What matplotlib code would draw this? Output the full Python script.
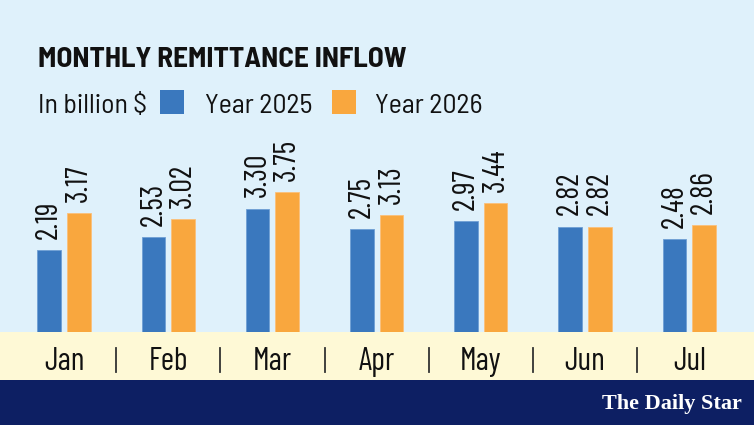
import matplotlib
matplotlib.use("Agg")
import matplotlib.pyplot as plt
import matplotlib.transforms as mtransforms
from matplotlib.patches import Rectangle
import numpy as np

# ------------------------------------------------------------------
# data (billion US$)
months = ["Jan", "Feb", "Mar", "Apr", "May", "Jun", "Jul"]
year_2025 = [2.19, 2.53, 3.30, 2.75, 2.97, 2.82, 2.48]
year_2026 = [3.17, 3.02, 3.75, 3.13, 3.44, 2.82, 2.86]
series_names = ["Year 2025", "Year 2026"]

# colours
bg_blue = "#dff1fb"
band_yellow = "#fef9d6"
navy = "#0d1f63"
c_2025 = "#3a78be"
c_2026 = "#f9a73e"

narrow = ["Barlow Condensed", "Roboto Condensed", "DejaVu Sans"]
semi = ["Barlow Semi Condensed", "Roboto Condensed", "DejaVu Sans"]
stretch = "condensed"

W, H = 754, 425
fig = plt.figure(figsize=(W / 100, H / 100), dpi=100)
fig.patch.set_facecolor(bg_blue)

# bottom bands (figure fraction), behind the axes
fig.patches.append(Rectangle((0, 0), 1, 45 / H, transform=fig.transFigure,
                             facecolor=navy, edgecolor="none", zorder=-5))
fig.patches.append(Rectangle((0, 45 / H), 1, 48 / H, transform=fig.transFigure,
                             facecolor=band_yellow, edgecolor="none", zorder=-5))

# main axes: bottom sits on the yellow band
ax = fig.add_axes([0, 93 / H, 1, 332 / H])
ax.set_facecolor("none")
x = np.arange(len(months))
pitch = 104.2
ax.set_xlim(-64 / pitch, (W - 64) / pitch)
ax.set_ylim(0, 332 / 37.4)

bw = 23.5 / pitch
off = 14.8 / pitch
b1 = ax.bar(x - off, year_2025, bw, color=c_2025, edgecolor="#6f9fd4", linewidth=0.6)
b2 = ax.bar(x + off, year_2026, bw, color=c_2026, edgecolor="#fbc07a", linewidth=0.6)

for bars, vals in ((b1, year_2025), (b2, year_2026)):
    for rect, v in zip(bars, vals):
        ax.annotate(f"{v:.2f}", (rect.get_x() + rect.get_width() / 2, v),
                    xytext=(0, 8), textcoords="offset points",
                    rotation=90, ha="center", va="bottom",
                    fontsize=22, family=narrow, fontstretch=stretch, color="#111111")

for s in ax.spines.values():
    s.set_visible(False)
ax.set_xticks([])
ax.set_yticks([])

# month labels and separators in the yellow band
trans = mtransforms.blended_transform_factory(ax.transData, fig.transFigure)
for i, m in enumerate(months):
    ax.text(i, 1 - 370 / H, m, transform=trans, ha="center", va="baseline",
            fontsize=23, family=narrow, fontstretch=stretch, color="#111111",
            clip_on=False)
for i in range(len(months) - 1):
    ax.plot([i + 0.5, i + 0.5], [1 - 348 / H, 1 - 372 / H], transform=trans,
            color="#333333", lw=1.3, clip_on=False)

# title and legend
fig.text(38 / W, 1 - 67 / H, "MONTHLY REMITTANCE INFLOW", ha="left", va="baseline",
         fontsize=21, fontweight="bold", family=semi, fontstretch="semi-condensed",
         color="#111111")
fig.text(38 / W, 1 - 113 / H, "In billion $", ha="left", va="baseline",
         fontsize=20, family=semi, fontstretch="semi-condensed", color="#111111")
for sx, tx, col, name in ((160, 205, c_2025, series_names[0]),
                          (332, 375, c_2026, series_names[1])):
    fig.patches.append(Rectangle((sx / W, 1 - 114 / H), 24 / W, 24 / H,
                                 transform=fig.transFigure, facecolor=col,
                                 edgecolor="none"))
    fig.text(tx / W, 1 - 113 / H, name, ha="left", va="baseline",
             fontsize=20, family=semi, fontstretch="semi-condensed", color="#111111")

# masthead
fig.text(742 / W, 1 - 409 / H, "The Daily Star", ha="right", va="baseline",
         fontsize=16, fontweight="bold", family=["Liberation Serif", "DejaVu Serif"],
         color="white")

fig.savefig("out.png", dpi=100, facecolor=fig.get_facecolor())
